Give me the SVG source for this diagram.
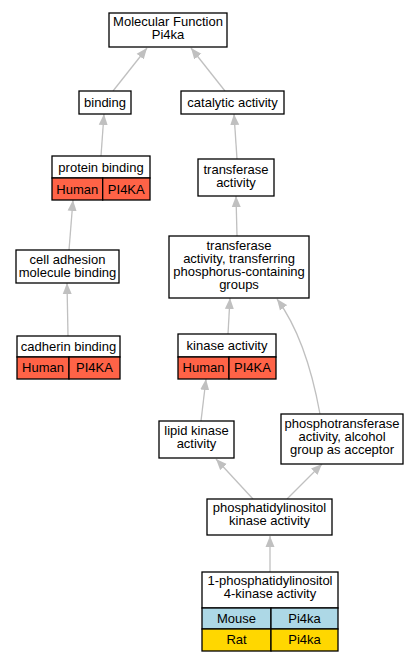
<svg xmlns="http://www.w3.org/2000/svg" width="420" height="661" viewBox="0 0 420 661">
<style>
text{font-family:"Liberation Sans",Arial,sans-serif;font-size:13px;text-anchor:middle;fill:#000}
.box{fill:#fff;stroke:#000;stroke-width:1.3}
.hum{fill:#ff6347;stroke:#000;stroke-width:1.3}
.mou{fill:#add8e6;stroke:#000;stroke-width:1.3}
.rat{fill:#ffd700;stroke:#000;stroke-width:1.3}
.e{fill:none;stroke:#c0c0c0;stroke-width:1.3;marker-end:url(#ah)}
</style>
<defs>
<marker id="ah" markerUnits="userSpaceOnUse" markerWidth="12" markerHeight="10" refX="11" refY="4.5" orient="auto" viewBox="0 0 12 9">
<path d="M0,0 L11,4.5 L0,9 z" fill="#c0c0c0"/>
</marker>
</defs>
<rect width="420" height="661" fill="#fff"/>
<g id="edges">
<path class="e" d="M113,91 L147,48"/>
<path class="e" d="M225,91 L191,48"/>
<path class="e" d="M101,156 L104,114"/>
<path class="e" d="M237,159 L234,114"/>
<path class="e" d="M69,250 L73,200"/>
<path class="e" d="M237,236 L236,196"/>
<path class="e" d="M68,336 L67,283"/>
<path class="e" d="M228,334 L230,298"/>
<path class="e" d="M201,421 L206,379"/>
<path class="e" d="M320,414 C312,370 300,330 277,299"/>
<path class="e" d="M253,499 L216,459"/>
<path class="e" d="M287,499 L322,464"/>
<path class="e" d="M270,572 L270,536"/>
</g>
<g id="mf"><rect class="box" x="109" y="13" width="118" height="34"/><text x="168" y="25.5">Molecular Function</text><text x="168" y="38.5">Pi4ka</text></g>
<g id="binding"><rect class="box" x="79" y="91" width="52" height="23"/><text x="105" y="106.5">binding</text></g>
<g id="catalytic"><rect class="box" x="181" y="91" width="103" height="23"/><text x="232.5" y="106.5">catalytic activity</text></g>
<g id="protein"><rect class="box" x="52" y="156" width="98" height="22"/><text x="101" y="171.5">protein binding</text>
<rect class="hum" x="52" y="178" width="50.7" height="22"/><rect class="hum" x="102.7" y="178" width="47.3" height="22"/>
<text x="77.3" y="193.5">Human</text><text x="126.3" y="193.5">PI4KA</text></g>
<g id="transferase"><rect class="box" x="198" y="159" width="76" height="37"/><text x="236" y="174">transferase</text><text x="236" y="187">activity</text></g>
<g id="celladh"><rect class="box" x="16" y="250" width="103" height="33"/><text x="67.5" y="263.5">cell adhesion</text><text x="67.5" y="276.5">molecule binding</text></g>
<g id="transferring"><rect class="box" x="169" y="236" width="140" height="62"/><text x="239" y="250">transferase</text><text x="239" y="263">activity, transferring</text><text x="239" y="276">phosphorus-containing</text><text x="239" y="289">groups</text></g>
<g id="cadherin"><rect class="box" x="17" y="336" width="103" height="21"/><text x="68.5" y="350.5">cadherin binding</text>
<rect class="hum" x="17" y="357" width="52" height="22"/><rect class="hum" x="69" y="357" width="51" height="22"/>
<text x="43" y="372">Human</text><text x="94.5" y="372">PI4KA</text></g>
<g id="kinase"><rect class="box" x="178" y="334" width="98" height="23"/><text x="227" y="350">kinase activity</text>
<rect class="hum" x="178" y="357" width="51" height="22"/><rect class="hum" x="229" y="357" width="47" height="22"/>
<text x="203.5" y="372">Human</text><text x="252.5" y="372">PI4KA</text></g>
<g id="lipid"><rect class="box" x="159" y="421" width="75" height="37"/><text x="196.5" y="435">lipid kinase</text><text x="196.5" y="448">activity</text></g>
<g id="phosphotrans"><rect class="box" x="281" y="414" width="122" height="50"/><text x="342" y="428">phosphotransferase</text><text x="342" y="441">activity, alcohol</text><text x="342" y="454">group as acceptor</text></g>
<g id="pik"><rect class="box" x="207" y="499" width="125" height="36"/><text x="269.5" y="512">phosphatidylinositol</text><text x="269.5" y="525">kinase activity</text></g>
<g id="pi4k"><rect class="box" x="202" y="572" width="136" height="36"/><text x="270" y="585">1-phosphatidylinositol</text><text x="270" y="598">4-kinase activity</text>
<rect class="mou" x="202" y="608" width="69" height="21"/><rect class="mou" x="271" y="608" width="67" height="21"/>
<text x="236.5" y="622.5">Mouse</text><text x="304.5" y="622.5">Pi4ka</text>
<rect class="rat" x="202" y="629" width="69" height="22"/><rect class="rat" x="271" y="629" width="67" height="22"/>
<text x="236.5" y="644">Rat</text><text x="304.5" y="644">Pi4ka</text></g>
</svg>
